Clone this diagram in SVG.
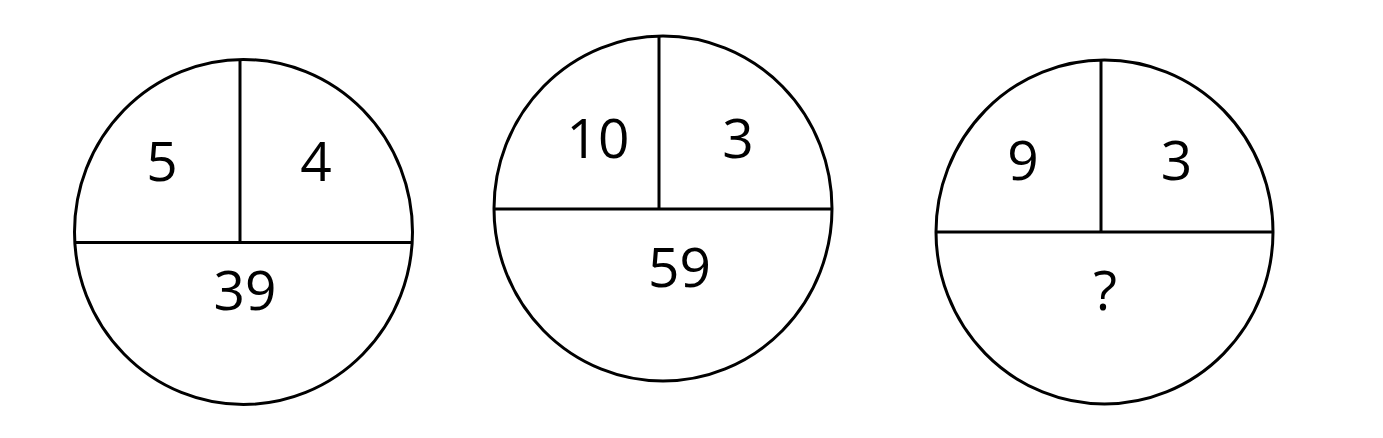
<svg xmlns="http://www.w3.org/2000/svg" width="1383" height="438" viewBox="0 0 1383 438">
<style>
.ring{fill:none;stroke:#000;stroke-width:3}
.div{stroke:#000;stroke-width:3;fill:none}
.t{font-family:"Open Sans","Liberation Sans",sans-serif;font-size:55px;fill:#000;text-anchor:middle}
</style>
<rect width="1383" height="438" fill="#fff"/>
<g id="circle1">
<ellipse class="ring" cx="243.5" cy="232" rx="169" ry="172.5"/>
<line class="div" x1="74.5" y1="242.5" x2="412.5" y2="242.5"/>
<line class="div" x1="240" y1="59.5" x2="240" y2="242.5"/>
<text class="t" x="162" y="181">5</text>
<text class="t" x="316" y="181">4</text>
<text class="t" x="245" y="310">39</text>
</g>
<g id="circle2">
<ellipse class="ring" cx="663" cy="208.5" rx="169" ry="172.5"/>
<line class="div" x1="494" y1="209" x2="832" y2="209"/>
<line class="div" x1="659" y1="36" x2="659" y2="209"/>
<text class="t" x="598" y="158">10</text>
<text class="t" x="738" y="158">3</text>
<text class="t" x="679.5" y="287">59</text>
</g>
<g id="circle3">
<ellipse class="ring" cx="1104.5" cy="232" rx="168.5" ry="172"/>
<line class="div" x1="936" y1="232" x2="1273" y2="232"/>
<line class="div" x1="1101" y1="60" x2="1101" y2="232"/>
<text class="t" x="1023" y="180">9</text>
<text class="t" x="1176.5" y="180">3</text>
<text class="t" x="1105" y="310">?</text>
</g>
<g id="connectors"/>
</svg>
